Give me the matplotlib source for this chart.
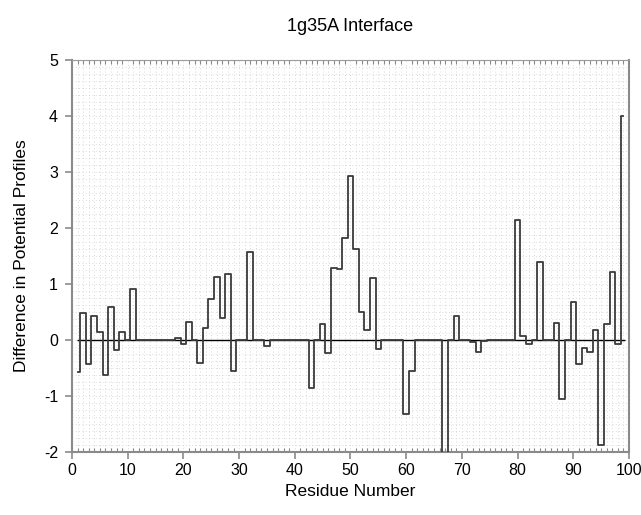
import numpy as np
import matplotlib
matplotlib.use("Agg")
import matplotlib.pyplot as plt
from matplotlib.ticker import MultipleLocator

# Diferenca nos perfis de potencial por residuo
residuos = list(range(1, 100))
diferenca = [
    -0.57, 0.49, -0.43, 0.43, 0.14, -0.62, 0.59, -0.17, 0.14, 0.00,   # 1-10
    0.91, 0.00, 0.00, 0.00, 0.00, 0.00, 0.00, 0.00, 0.03, -0.07,      # 11-20
    0.33, 0.00, -0.41, 0.21, 0.74, 1.13, 0.40, 1.18, -0.55, 0.00,     # 21-30
    0.00, 1.57, 0.00, 0.00, -0.11, 0.00, 0.00, 0.00, 0.00, 0.00,      # 31-40
    0.00, 0.00, -0.86, 0.00, 0.29, -0.24, 1.28, 1.26, 1.83, 2.92,     # 41-50
    1.62, 0.50, 0.18, 1.11, -0.16, 0.00, 0.00, 0.00, 0.00, -1.33,     # 51-60
    -0.55, 0.00, 0.00, 0.00, 0.00, 0.00, -2.50, 0.00, 0.42, 0.00,     # 61-70
    0.00, -0.03, -0.22, -0.02, 0.00, 0.00, 0.00, 0.00, 0.00, 2.15,    # 71-80
    0.08, -0.08, 0.00, 1.39, 0.00, 0.00, 0.30, -1.06, 0.00, 0.67,     # 81-90
    -0.42, -0.15, -0.21, 0.18, -1.87, 0.28, 1.21, -0.07, 4.00,        # 91-99
]

titulo = "1g35A Interface"
rotulo_x = "Residue Number"
rotulo_y = "Difference in Potential Profiles"

plt.rcParams["font.family"] = ["Liberation Sans", "DejaVu Sans"]
plt.rcParams["axes.unicode_minus"] = False

fig = plt.figure(figsize=(6.41, 5.15), dpi=100)
ax = fig.add_axes([0.1123, 0.1223, 0.8690, 0.7612])

# grade pontilhada
ax.set_axisbelow(True)
ax.xaxis.set_minor_locator(MultipleLocator(1))
ax.yaxis.set_minor_locator(MultipleLocator(0.125))
ax.grid(which="both", color="#cdcdcd", linestyle=(0, (1, 3)), linewidth=0.6)

# linha do zero
ax.hlines(0, residuos[0] - 0.15, residuos[-1] + 0.2, color="black", linewidth=1.0, zorder=3)

# perfil em degraus
ax.plot(residuos, diferenca, drawstyle="steps-mid", color="#3a3a3a", linewidth=1.3, zorder=4)

ax.set_xlim(0, 100)
ax.set_ylim(-2, 5)
ax.xaxis.set_major_locator(MultipleLocator(10))
ax.yaxis.set_major_locator(MultipleLocator(1))

for lado in ["left", "bottom", "right"]:
    ax.spines[lado].set_color("#8a8a8a")
    ax.spines[lado].set_linewidth(1.5)
ax.spines["top"].set_color("#9a9a9a")
ax.spines["top"].set_linewidth(0.8)

ax.tick_params(axis="x", which="major", direction="out", length=5, width=1.2,
               color="#8a8a8a", labelsize=11.5, pad=3)
ax.tick_params(axis="x", which="minor", direction="in", length=3, width=0.8,
               color="#8a8a8a", top=True, bottom=True)
ax.tick_params(axis="y", which="major", direction="out", length=5, width=1.2,
               color="#8a8a8a", labelsize=11.5, pad=5)
ax.tick_params(axis="y", which="minor", left=False, right=False)

ax.set_xlabel(rotulo_x, fontsize=12.5, labelpad=4)
ax.set_ylabel(rotulo_y, fontsize=12.5, labelpad=11)
ax.set_title(titulo, fontsize=13, pad=21)

fig.savefig("out.png", dpi=100)
